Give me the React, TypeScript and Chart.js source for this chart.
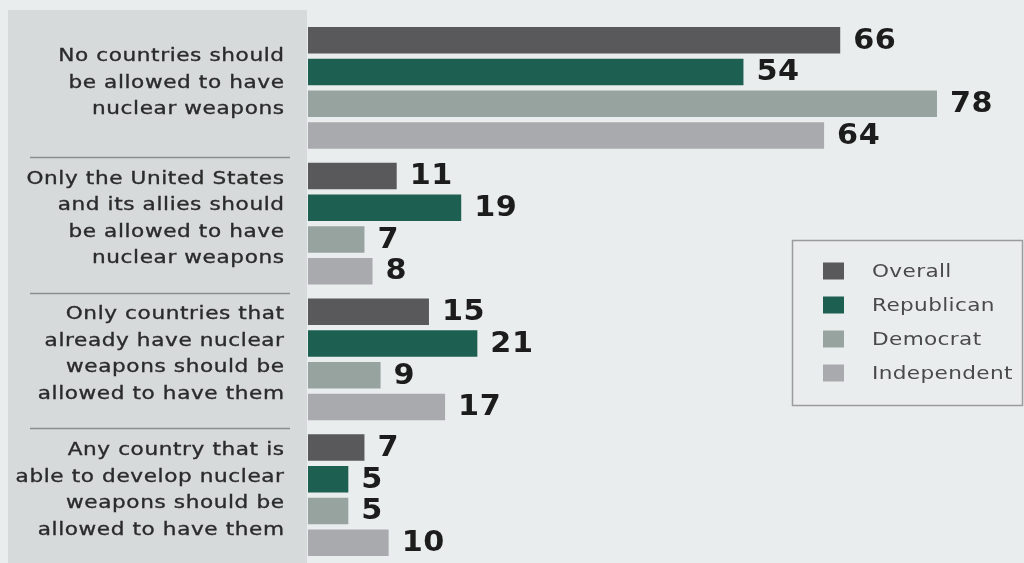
import React, { useEffect, useRef } from "react";
import { Chart, registerables } from "chart.js";

Chart.register(...registerables);

const categories: string[][] = [
  ["No countries should", "be allowed to have", "nuclear weapons"],
  ["Only the United States", "and its allies should", "be allowed to have", "nuclear weapons"],
  ["Only countries that", "already have nuclear", "weapons should be", "allowed to have them"],
  ["Any country that is", "able to develop nuclear", "weapons should be", "allowed to have them"],
];
const seriesNames = ["Overall", "Republican", "Democrat", "Independent"];
const overall = [66, 11, 15, 7];
const republican = [54, 19, 21, 5];
const democrat = [78, 7, 9, 5];
const independent = [64, 8, 17, 10];
const seriesColors = ["#59595b", "#1d5f50", "#97a39e", "#a9aaad"];

const W = 1024;
const H = 563;
const PANEL_RIGHT = 307;
const BAR_LEFT = 308;
const X_MAX = 88;

function wideText(
  ctx: CanvasRenderingContext2D,
  text: string,
  x: number,
  y: number,
  align: CanvasTextAlign,
  sx: number,
  spacing: number,
  strokeW: number
) {
  ctx.save();
  ctx.translate(x, y);
  ctx.scale(sx, 1);
  (ctx as any).letterSpacing = spacing + "px";
  ctx.textAlign = align;
  const dx = align === "right" ? spacing : 0;
  ctx.fillText(text, dx, 0);
  if (strokeW > 0) {
    ctx.strokeStyle = ctx.fillStyle as string;
    ctx.lineWidth = strokeW;
    ctx.strokeText(text, dx, 0);
  }
  ctx.restore();
}

const decorPlugin = {
  id: "decor",
  beforeDraw(chart: any) {
    const ctx = chart.ctx as CanvasRenderingContext2D;
    const y = chart.scales.y;
    ctx.save();
    ctx.fillStyle = "#eaeded";
    ctx.fillRect(0, 0, W, H);
    ctx.fillStyle = "#d6dadb";
    ctx.fillRect(8, 10, PANEL_RIGHT - 8, H - 10);

    const centers = categories.map((_, i) => y.getPixelForValue(i));
    ctx.strokeStyle = "#8c8f90";
    ctx.lineWidth = 1.5;
    for (let i = 0; i < centers.length - 1; i++) {
      const yy = Math.round((centers[i] + centers[i + 1]) / 2 + 1) + 0.5;
      ctx.beginPath();
      ctx.moveTo(30, yy);
      ctx.lineTo(290, yy);
      ctx.stroke();
    }

    ctx.fillStyle = "#2b2b2b";
    ctx.font = '18px "DejaVu Sans"';
    ctx.textBaseline = "middle";
    const lh = 26.5;
    categories.forEach((lines, i) => {
      const c = centers[i] - 5;
      const start = c - ((lines.length - 1) * lh) / 2;
      lines.forEach((ln, j) => {
        wideText(ctx, ln, 284, start + j * lh, "right", 1.2, 0.5, 0.35);
      });
    });

    ctx.strokeStyle = "#9a9c9d";
    ctx.lineWidth = 1.5;
    ctx.strokeRect(792.5, 240.5, 230, 165);
    ctx.font = '18px "DejaVu Sans"';
    const rows = [271, 305, 339, 373];
    chart.data.datasets.forEach((ds: any, i: number) => {
      ctx.fillStyle = ds.backgroundColor;
      ctx.fillRect(823, rows[i] - 8.5, 21, 17);
      ctx.fillStyle = "#4a4a4a";
      wideText(ctx, ds.label, 872, rows[i] + 1, "left", 1.2, 0.3, 0);
    });
    ctx.restore();
  },
  afterDatasetsDraw(chart: any) {
    const ctx = chart.ctx as CanvasRenderingContext2D;
    ctx.save();
    ctx.fillStyle = "#1c1c1c";
    ctx.font = 'bold 28px "DejaVu Sans"';
    ctx.textBaseline = "middle";
    chart.data.datasets.forEach((ds: any, di: number) => {
      const meta = chart.getDatasetMeta(di);
      meta.data.forEach((bar: any, i: number) => {
        wideText(ctx, String(ds.data[i]), bar.x + 13, bar.y + 1, "left", 1.08, 0.5, 0);
      });
    });
    ctx.restore();
  },
};

export default function App() {
  const ref = useRef<HTMLCanvasElement | null>(null);
  useEffect(() => {
    if (!ref.current) return;
    const values = [overall, republican, democrat, independent];
    const chart = new Chart(ref.current, {
      type: "bar",
      data: {
        labels: categories,
        datasets: seriesNames.map((name, i) => ({
          label: name,
          data: values[i],
          backgroundColor: seriesColors[i],
          borderWidth: 0,
          categoryPercentage: 0.934,
          barPercentage: 0.836,
        })),
      },
      options: {
        indexAxis: "y",
        responsive: false,
        animation: false,
        devicePixelRatio: 1,
        layout: {
          padding: { left: BAR_LEFT, top: 20, right: W - (BAR_LEFT + X_MAX * 8.064), bottom: 0 },
        },
        plugins: { legend: { display: false }, tooltip: { enabled: false } },
        scales: {
          x: { display: false, min: 0, max: X_MAX },
          y: { display: false },
        },
      },
      plugins: [decorPlugin],
    } as any);
    return () => chart.destroy();
  }, []);
  return (
    <div style={{ position: "absolute", left: 0, top: 0, width: W, height: H, background: "#eaeded" }}>
      <canvas ref={ref} width={W} height={H} style={{ display: "block" }} />
    </div>
  );
}
